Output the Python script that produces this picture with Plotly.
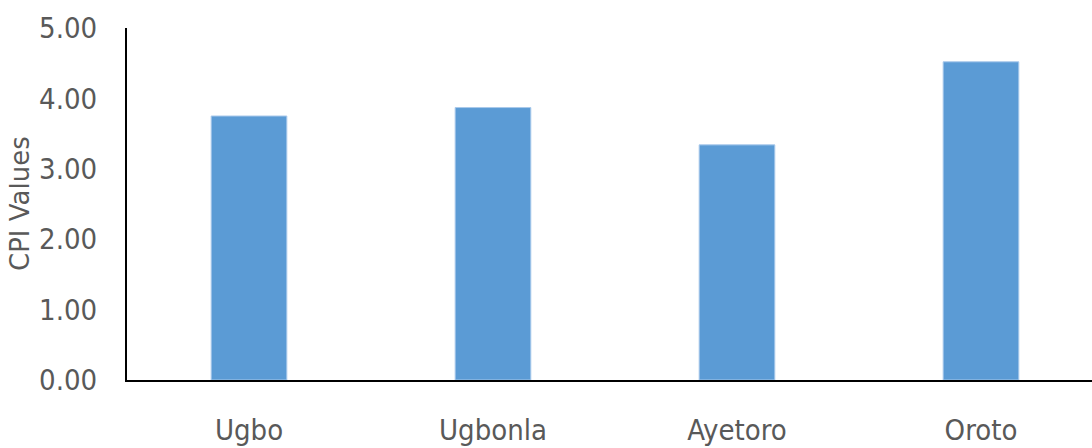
import plotly.graph_objects as go

categories = ["Ugbo", "Ugbonla", "Ayetoro", "Oroto"]
cpi_values = [3.75, 3.87, 3.34, 4.52]
y_ticks = [0, 1, 2, 3, 4, 5]
y_tick_labels = ["0.00", "1.00", "2.00", "3.00", "4.00", "5.00"]
y_title = "CPI Values"

fig = go.Figure(
    go.Bar(
        x=categories,
        y=cpi_values,
        width=0.31,
        marker=dict(color="#5B9BD5", line=dict(color="#A9C9EB", width=1)),
    )
)

tick_font = dict(family="'DejaVu Sans Condensed', sans-serif", size=29, color="#595959")

fig.update_layout(
    width=1092,
    height=448,
    margin=dict(l=127, r=0, t=28, b=68, autoexpand=False),
    paper_bgcolor="white",
    plot_bgcolor="white",
    showlegend=False,
    xaxis=dict(
        range=[-0.5, 3.455],
        showline=True,
        linecolor="black",
        linewidth=2,
        showgrid=False,
        zeroline=False,
        ticks="",
        tickfont=tick_font,
        ticklabelstandoff=23,
        automargin=False,
    ),
    yaxis=dict(
        range=[0, 5],
        tickvals=y_ticks,
        ticktext=y_tick_labels,
        showline=True,
        linecolor="black",
        linewidth=2,
        showgrid=False,
        zeroline=False,
        ticks="",
        tickfont=tick_font,
        ticklabelstandoff=22,
        automargin=False,
    ),
    annotations=[
        dict(
            text=y_title,
            xref="paper",
            yref="paper",
            x=(20 - 127) / 965,
            y=0.5,
            xanchor="center",
            yanchor="middle",
            textangle=-90,
            showarrow=False,
            font=dict(family="'DejaVu Sans', sans-serif", size=26, color="#595959"),
        )
    ],
)

fig.write_html("out.html")
